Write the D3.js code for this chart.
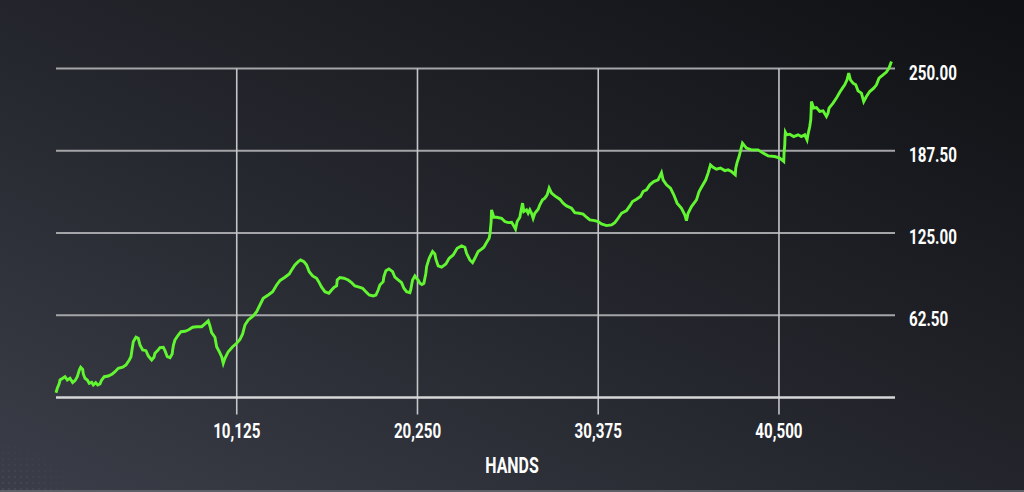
<!DOCTYPE html>
<html>
<head>
<meta charset="utf-8">
<script src="https://cdn.jsdelivr.net/npm/d3@7"></script>
<style>
html,body{margin:0;padding:0;background:#1c1d22;}
svg{display:block;}
text{font-family:"Roboto","Liberation Sans","DejaVu Sans",sans-serif;fill:#ffffff;font-weight:700;}
</style>
</head>
<body>
<svg id="chart" width="1024" height="492"></svg>
<script>
// ---- data ----
const hands = [0,73,185,224,375,504,633,784,935,1064,1193,1305,1383,1495,1529,1624,1753,1865,1999,2089,2223,2335,2464,2559,2705,2929,3153,3304,3489,3735,3920,4105,4200,4256,4329,4480,4609,4704,4855,5040,5169,5359,5488,5544,5695,5824,6009,6104,6233,6384,6507,6535,6580,6664,6849,7000,7224,7409,7655,7879,8159,8344,8529,8624,8719,8904,8999,9145,9279,9369,9464,9649,9895,10119,10304,10455,10584,10769,
11049,11239,11424,11609,11889,12135,12359,12544,12824,13065,13199,13384,13569,13703,13888,14039,14185,14375,14599,14745,14879,15064,15288,15439,15585,15719,15753,15904,16128,16369,16559,16744,16985,17175,17360,17545,17769,17920,18049,18144,18329,18368,18480,18648,18855,18984,19169,19359,19488,19639,19824,19880,19920,19975,20104,20199,20289,20384,20496,20608,20720,20760,20905,21095,21224,21280,21409,21600,21840,22025,22249,22473,22719,22904,22999,23184,23335,23464,23649,23839,23968,24119,24265,24321,24343,24377,24399,24528,24679,24959,25144,25329,25519,25609,25743,25833,25984,26023,26135,26208,26359,26449,26544,26639,26729,26824,27009,27104,27255,27384,27513,27625,27759,27944,28224,28409,28599,28879,29064,29305,29529,29719,29904,30184,30369,30559,30839,31119,31304,31489,31679,31959,32144,32295,32519,32743,32889,33079,33264,33488,33729,33919,34009,34199,34423,34608,34793,35039,35224,35319,35409,35599,35879,36025,36159,36400,36529,36663,36809,36999,37223,37464,37649,37839,38052,38080,38153,38265,38455,38679,38959,39329,39609,39889,40264,40544,40768,40785,40824,40841,40858,40936,41104,41328,41569,41759,41944,42073,42129,42224,42280,42302,42319,42448,42599,42784,42969,43159,43249,43305,43529,43719,43904,44055,44184,44313,44408,44503,44649,44800,44929,45119,45248,45399,45584,45808,45959,46105,46295,46519,46665,46800];
const winnings = [3.6,7.0,10.8,13.3,14.6,15.8,13.3,14.6,11.3,12.8,15.8,20.9,23.0,21.4,17.9,14.6,13.3,10.8,11.6,9.5,11.3,9.5,10.3,13.3,15.8,16.3,17.9,19.6,22.2,23.0,24.7,28.5,31.0,36.1,42.4,45.8,45.0,39.9,36.1,35.6,31.6,28.5,30.6,33.6,35.6,37.9,38.2,35.6,31.0,30.3,33.1,36.1,39.9,43.7,47.5,50.0,50.3,51.3,53.4,53.8,53.8,55.9,58.2,54.4,49.3,45.8,38.6,34.8,31.0,26.0,29.8,34.8,38.6,41.2,44.2,48.3,55.1,58.9,
62.0,65.2,70.3,75.4,77.9,80.4,85.5,88.8,91.4,93.9,96.9,100.7,103.2,104.5,103.2,100.7,95.6,92.4,90.6,87.3,83.8,80.4,79.2,81.7,83.8,84.8,89.3,91.1,90.6,89.3,87.3,84.8,83.8,83.0,80.4,77.9,77.2,77.9,81.7,85.5,88.0,91.8,96.4,97.7,95.6,91.4,89.3,87.3,83.0,80.4,79.7,82.3,85.5,89.3,92.4,90.6,89.3,86.8,85.9,86.8,94.4,99.4,105.8,110.9,109.1,105.1,100.0,99.0,101.5,105.8,108.3,113.4,115.2,114.2,109.6,104.5,102.5,105.8,110.9,112.7,114.2,117.7,121.0,125.1,128.9,133.7,142.6,137.0,137.0,136.2,133.7,132.9,133.2,131.2,127.9,133.7,137.0,140.0,147.7,141.3,142.6,140.0,142.6,140.0,136.2,140.0,143.1,146.4,150.2,151.5,154.0,159.1,155.3,153.2,150.7,147.7,145.6,143.8,140.5,140.0,139.3,137.0,135.0,134.4,133.7,131.9,130.6,131.2,132.9,136.2,140.0,142.0,145.6,148.9,150.7,152.7,156.5,157.8,161.6,164.1,165.4,170.9,165.4,161.6,159.1,154.0,147.7,143.8,138.8,134.4,140.0,145.1,150.2,156.5,159.8,165.4,170.5,176.8,175.0,173.5,174.3,172.4,173.0,171.7,169.2,174.3,178.5,183.1,193.3,189.5,188.2,188.2,185.7,183.6,183.1,181.9,179.3,185.7,192.0,198.3,201.6,199.6,200.1,198.3,199.6,198.3,199.6,195.8,200.1,205.9,211.0,217.3,224.9,219.9,220.3,217.3,217.8,213.5,216.1,219.9,223.7,227.5,232.0,235.1,237.6,241.4,246.5,241.4,238.9,237.6,233.0,231.3,224.9,228.7,232.5,235.1,237.6,242.7,244.7,247.3,250.3,255.3];
const xTicks = [10125, 20250, 30375, 40500];
const yTicks = [62.5, 125, 187.5, 250];
const xDomain = [0, 47000];
const yDomain = [0, 250];
const xTitle = "HANDS";

// ---- drawing ----
const W = 1024, H = 492;
const svg = d3.select("#chart");
const defs = svg.append("defs");
const bg = defs.append("linearGradient").attr("id","bg")
  .attr("x1","0").attr("y1","1").attr("x2","1").attr("y2","0");
bg.append("stop").attr("offset","0%").attr("stop-color","#3b3e48");
bg.append("stop").attr("offset","45%").attr("stop-color","#25272e");
bg.append("stop").attr("offset","100%").attr("stop-color","#0f1013");
svg.append("rect").attr("width",W).attr("height",H).attr("fill","url(#bg)");

// faint dotted corner pattern
const pat = defs.append("pattern").attr("id","dots").attr("width",6).attr("height",6)
  .attr("patternUnits","userSpaceOnUse");
pat.append("circle").attr("cx",3).attr("cy",3).attr("r",0.8).attr("fill","#6a6d76");
const rg = defs.append("radialGradient").attr("id","fade").attr("cx","0").attr("cy","1").attr("r","1");
rg.append("stop").attr("offset","0%").attr("stop-color","#fff").attr("stop-opacity",0.6);
rg.append("stop").attr("offset","100%").attr("stop-color","#fff").attr("stop-opacity",0);
const mask = defs.append("mask").attr("id","m");
mask.append("rect").attr("x",0).attr("y",440).attr("width",80).attr("height",52).attr("fill","url(#fade)");
svg.append("rect").attr("x",0).attr("y",440).attr("width",80).attr("height",52)
  .attr("fill","url(#dots)").attr("mask","url(#m)");

// bottom edge
svg.append("rect").attr("x",0).attr("y",490).attr("width",W).attr("height",2).attr("fill","#5c5f66");

const x = d3.scaleLinear().domain(xDomain).range([56, 895]);
const y = d3.scaleLinear().domain(yDomain).range([397.5, 68.5]);

// horizontal grid
svg.append("g").selectAll("line").data(yTicks).join("line")
  .attr("x1", x.range()[0]).attr("x2", x.range()[1])
  .attr("y1", d => y(d)).attr("y2", d => y(d))
  .attr("stroke","#a4a5a8").attr("stroke-width",2);

// vertical grid + ticks
svg.append("g").selectAll("line").data(xTicks).join("line")
  .attr("x1", d => x(d)).attr("x2", d => x(d))
  .attr("y1", y(250)).attr("y2", y(0) + 17)
  .attr("stroke","#c4c5c8").attr("stroke-width",1.6);

// baseline
svg.append("line").attr("x1", x.range()[0]).attr("x2", x.range()[1])
  .attr("y1", y(0)).attr("y2", y(0))
  .attr("stroke","#d6d7d9").attr("stroke-width",2.4);

const SX = 0.74;
// y labels (right)
svg.append("g").selectAll("text").data(yTicks).join("text")
  .attr("transform", d => `translate(909,${y(d) + 11}) scale(${SX},1)`)
  .attr("font-size", 20.5)
  .text(d => d3.format(".2f")(d));

// x labels
svg.append("g").selectAll("text").data(xTicks).join("text")
  .attr("transform", d => `translate(${x(d)},437.5) scale(${SX},1)`)
  .attr("text-anchor","middle")
  .attr("font-size", 20.5)
  .text(d => d3.format(",")(d));

// axis title
svg.append("text").attr("transform", `translate(512,473) scale(${SX},1)`)
  .attr("text-anchor","middle").attr("font-size", 21.5)
  .text(xTitle);

// line
const pts = hands.map((h,i)=>[h, winnings[i]]);
const line = d3.line().x(d => x(d[0])).y(d => y(d[1]));
svg.append("path").datum(pts)
  .attr("d", line)
  .attr("fill","none")
  .attr("stroke","#62f532")
  .attr("stroke-width",2.9)
  .attr("stroke-linejoin","miter")
  .attr("stroke-miterlimit",4);
</script>
</body>
</html>
